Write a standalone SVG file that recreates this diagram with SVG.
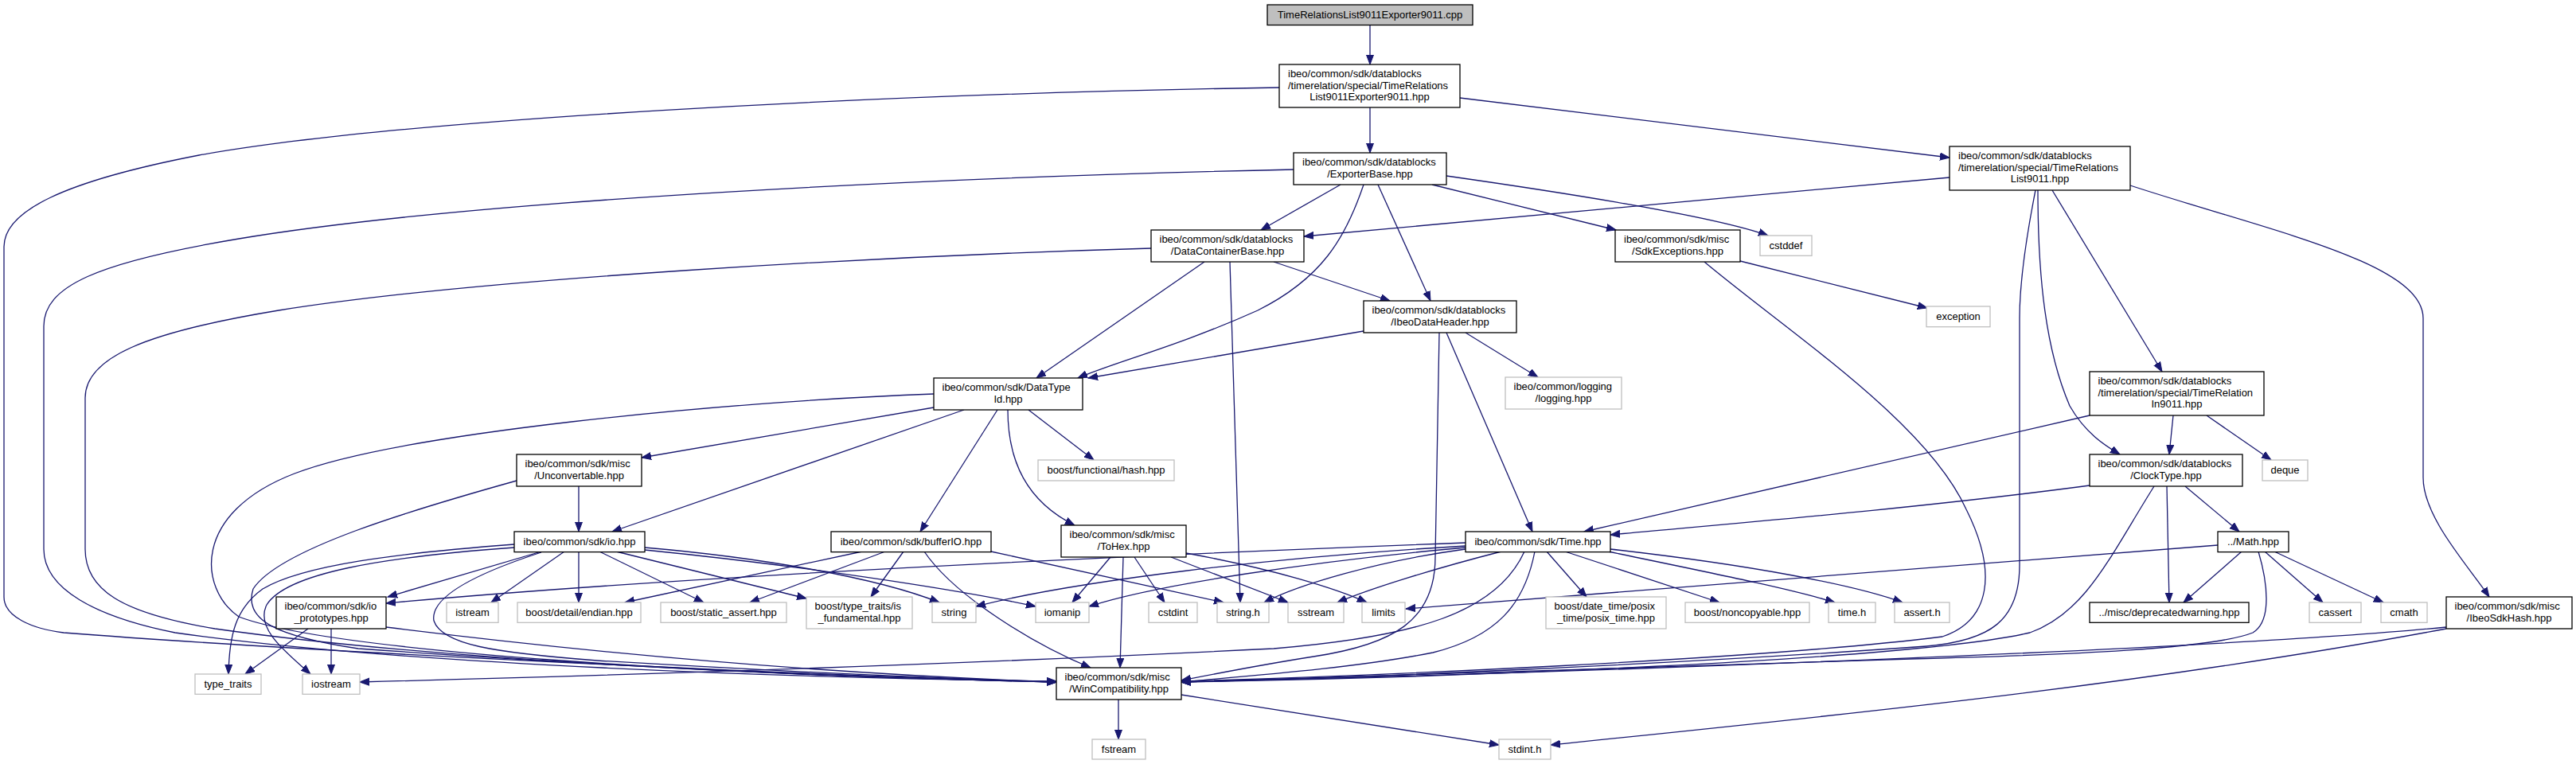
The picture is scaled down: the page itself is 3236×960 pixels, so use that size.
<svg xmlns="http://www.w3.org/2000/svg" width="3236" height="960" viewBox="0 0 3236 960">
<style>
text { font-family: "Liberation Sans", Arial, Helvetica, sans-serif; font-size: 13px; fill: #000; }
.m { text-anchor: middle; }
.s { text-anchor: start; }
rect.b { fill: #fff; stroke: #000; stroke-width: 1.3; }
rect.g { fill: #fff; stroke: #bfbfbf; stroke-width: 1.3; }
rect.r { fill: #bfbfbf; stroke: #000; stroke-width: 1.3; }
.e path { fill: none; stroke: #191970; stroke-width: 1.3; marker-end: url(#ah); }
</style>
<defs>
<marker id="ah" markerWidth="13" markerHeight="11" refX="12" refY="5" orient="auto" markerUnits="userSpaceOnUse">
<path d="M0,0.5 L12,5 L0,9.5 z" fill="#191970" stroke="#191970" stroke-width="1"/>
</marker>
</defs>
<rect x="0" y="0" width="3236" height="960" fill="#fff"/>

<g id="edges" class="e">
<path d="M1721,31 L1721,81"/>
<path d="M1721,135 L1721,192"/>
<path d="M1834,123 L2449,198"/>
<path d="M1607,110 C1100,118 500,150 250,195 C80,228 5,265 5,310 L5,750 C5,775 40,790 80,795 C400,820 1000,848 1327,857"/>
<path d="M1625,213 C1200,222 600,250 300,300 C120,330 55,360 55,410 L55,690 C55,740 120,775 220,795 C500,835 1000,852 1327,856"/>
<path d="M1446,312 C1100,322 600,350 350,390 C180,418 107,450 107,500 L107,690 C107,740 150,770 270,790 C550,830 1000,850 1327,857"/>
<path d="M1173,495 C900,505 500,545 370,595 C240,645 250,740 300,775 C420,820 900,848 1327,857"/>
<path d="M649,604 C520,640 350,690 318,740 C305,780 350,800 450,815 C800,840 1100,852 1327,857"/>
<path d="M680,694 C600,720 540,750 545,780 C555,810 620,820 750,830 C1000,845 1200,853 1327,857"/>
<path d="M485,788 C700,815 1000,845 1327,857"/>
<path d="M1161,693 C1200,750 1300,810 1370,839"/>
<path d="M1411,700 L1407,839"/>
<path d="M1808,418 L1803,700 C1803,780 1750,810 1650,825 C1580,836 1520,848 1484,855"/>
<path d="M1928,693 C1915,760 1880,800 1800,820 C1700,840 1560,850 1484,857"/>
<path d="M1915,693 C1880,770 1780,800 1600,815 C1200,835 800,848 452,857"/>
<path d="M2141,329 C2250,420 2420,530 2470,640 C2510,720 2500,780 2440,800 C2200,830 1700,850 1484,856"/>
<path d="M2557,239 C2545,300 2537,360 2537,400 L2537,710 C2537,780 2500,805 2420,812 C2100,835 1700,852 1484,857"/>
<path d="M2706,611 C2650,700 2620,770 2550,795 C2400,830 1800,852 1484,857"/>
<path d="M2837,693 C2848,730 2855,780 2830,795 C2780,815 2600,823 2400,828 C2000,842 1700,852 1484,857"/>
<path d="M3073,788 C2800,815 2000,845 1484,857"/>
<path d="M3073,790 C2700,860 2300,900 1948,936"/>
<path d="M1484,873 L1883,936"/>
<path d="M1405,879 L1405,929"/>
<path d="M1684,232 L1584,289"/>
<path d="M1713,232 C1690,300 1660,350 1580,390 C1480,435 1400,455 1354,475"/>
<path d="M1731,232 L1797,378"/>
<path d="M1799,232 L2030,289"/>
<path d="M1817,221 C1950,240 2150,270 2221,296"/>
<path d="M2449,223 L1638,297"/>
<path d="M2560,239 C2560,350 2570,440 2600,510 C2620,545 2645,560 2663,571"/>
<path d="M2578,239 L2716,467"/>
<path d="M2676,233 C2850,290 3044,330 3044,400 L3044,600 C3044,650 3100,710 3127,750"/>
<path d="M2186,328 L2421,387"/>
<path d="M1513,329 L1302,475"/>
<path d="M1600,329 L1746,378"/>
<path d="M1545,329 L1558,757"/>
<path d="M1713,416 L1367,475"/>
<path d="M1817,418 L1925,668"/>
<path d="M1841,418 L1932,474"/>
<path d="M2625,522 L1990,668"/>
<path d="M2730,522 L2725,571"/>
<path d="M2772,522 L2853,578"/>
<path d="M2625,610 C2400,640 2150,660 2023,672"/>
<path d="M2722,611 L2725,757"/>
<path d="M2745,611 L2813,668"/>
<path d="M2816,693 L2743,757"/>
<path d="M2845,693 L2918,757"/>
<path d="M2857,693 L2994,757"/>
<path d="M2786,685 L1766,765"/>
<path d="M1173,512 L806,575"/>
<path d="M1211,515 L769,668"/>
<path d="M1253,515 L1156,668"/>
<path d="M1266,515 C1266,580 1290,630 1350,660"/>
<path d="M1292,515 L1374,578"/>
<path d="M727,611 L727,668"/>
<path d="M680,693 L487,750"/>
<path d="M709,693 L617,757"/>
<path d="M727,693 L727,757"/>
<path d="M753,693 L884,757"/>
<path d="M774,693 L1013,752"/>
<path d="M810,688 C950,700 1100,725 1180,757"/>
<path d="M810,691 C1000,710 1200,740 1301,762"/>
<path d="M646,684 C500,695 380,710 330,740 C295,765 288,800 287,847"/>
<path d="M646,688 C480,700 360,720 335,760 C320,790 360,820 390,847"/>
<path d="M387,790 L308,847"/>
<path d="M416,790 L416,847"/>
<path d="M1841,682 C1500,695 900,720 485,758"/>
<path d="M1841,686 C1600,700 1350,730 1226,762"/>
<path d="M1841,688 C1650,705 1450,735 1368,762"/>
<path d="M1841,690 C1730,705 1630,735 1588,757"/>
<path d="M1886,693 C1800,715 1720,740 1680,757"/>
<path d="M1395,700 L1347,757"/>
<path d="M1425,700 L1463,757"/>
<path d="M1471,700 L1618,757"/>
<path d="M1490,695 C1600,715 1680,740 1717,757"/>
<path d="M1083,693 L785,757"/>
<path d="M1112,693 L942,757"/>
<path d="M1135,693 L1094,750"/>
<path d="M1245,693 L1537,757"/>
<path d="M1943,693 L1993,750"/>
<path d="M1966,693 L2160,757"/>
<path d="M2020,693 C2150,720 2250,740 2305,757"/>
<path d="M2023,690 C2200,710 2330,735 2390,757"/>
</g>

<g id="n_root"><rect class="r" x="1592" y="6" width="258" height="25.5"/><text class="m" x="1721" y="23">TimeRelationsList9011Exporter9011.cpp</text></g>
<g id="n_trle"><rect class="b" x="1607" y="81" width="227" height="54"/><text class="s" x="1618" y="97">ibeo/common/sdk/datablocks</text><text class="s" x="1618" y="111.5">/timerelation/special/TimeRelations</text><text class="m" x="1720.5" y="126">List9011Exporter9011.hpp</text></g>
<g id="n_exporterbase"><rect class="b" x="1625" y="192" width="192" height="40"/><text class="s" x="1636" y="208">ibeo/common/sdk/datablocks</text><text class="m" x="1721" y="222.5">/ExporterBase.hpp</text></g>
<g id="n_datacontainerbase"><rect class="b" x="1446" y="289" width="192" height="40"/><text class="s" x="1456.5" y="305">ibeo/common/sdk/datablocks</text><text class="m" x="1542" y="319.5">/DataContainerBase.hpp</text></g>
<g id="n_sdkexceptions"><rect class="b" x="2029" y="289" width="157" height="40"/><text class="s" x="2040" y="305">ibeo/common/sdk/misc</text><text class="m" x="2107.5" y="319.5">/SdkExceptions.hpp</text></g>
<g id="n_cstddef"><rect class="g" x="2211" y="296" width="65" height="25.3"/><text class="m" x="2243.5" y="313">cstddef</text></g>
<g id="n_ibeodataheader"><rect class="b" x="1713" y="378" width="192" height="40"/><text class="s" x="1723.5" y="394">ibeo/common/sdk/datablocks</text><text class="m" x="1809" y="408.5">/IbeoDataHeader.hpp</text></g>
<g id="n_trl"><rect class="b" x="2449" y="184" width="227" height="55"/><text class="s" x="2460" y="200">ibeo/common/sdk/datablocks</text><text class="s" x="2460" y="214.5">/timerelation/special/TimeRelations</text><text class="m" x="2562.5" y="229">List9011.hpp</text></g>
<g id="n_exception"><rect class="g" x="2420" y="385" width="80" height="25.7"/><text class="m" x="2460" y="402">exception</text></g>
<g id="n_logging"><rect class="g" x="1891" y="474" width="146" height="40"/><text class="s" x="1901.5" y="490">ibeo/common/logging</text><text class="m" x="1964" y="504.5">/logging.hpp</text></g>
<g id="n_datatypeid"><rect class="b" x="1173" y="475" width="187" height="40"/><text class="s" x="1183.5" y="491">ibeo/common/sdk/DataType</text><text class="m" x="1266.5" y="505.5">Id.hpp</text></g>
<g id="n_trin"><rect class="b" x="2625" y="467" width="219" height="55"/><text class="s" x="2635.5" y="483">ibeo/common/sdk/datablocks</text><text class="s" x="2635.5" y="497.5">/timerelation/special/TimeRelation</text><text class="m" x="2734.5" y="512">In9011.hpp</text></g>
<g id="n_hash"><rect class="g" x="1304" y="578" width="171" height="26"/><text class="m" x="1389.5" y="595">boost/functional/hash.hpp</text></g>
<g id="n_unconvertable"><rect class="b" x="649" y="571" width="157" height="40"/><text class="s" x="659.5" y="587">ibeo/common/sdk/misc</text><text class="m" x="727.5" y="601.5">/Unconvertable.hpp</text></g>
<g id="n_clocktype"><rect class="b" x="2625" y="571" width="192" height="40"/><text class="s" x="2635.5" y="587">ibeo/common/sdk/datablocks</text><text class="m" x="2721" y="601.5">/ClockType.hpp</text></g>
<g id="n_deque"><rect class="g" x="2842" y="578" width="57" height="26"/><text class="m" x="2870.5" y="595">deque</text></g>
<g id="n_io"><rect class="b" x="646" y="668" width="164" height="25.6"/><text class="m" x="728" y="685">ibeo/common/sdk/io.hpp</text></g>
<g id="n_bufferio"><rect class="b" x="1044" y="668" width="201" height="25.6"/><text class="m" x="1144.5" y="685">ibeo/common/sdk/bufferIO.hpp</text></g>
<g id="n_tohex"><rect class="b" x="1333" y="660" width="157" height="40"/><text class="s" x="1343.5" y="676">ibeo/common/sdk/misc</text><text class="m" x="1411.5" y="690.5">/ToHex.hpp</text></g>
<g id="n_time"><rect class="b" x="1841" y="668" width="182" height="25.6"/><text class="m" x="1932" y="685">ibeo/common/sdk/Time.hpp</text></g>
<g id="n_math"><rect class="b" x="2786" y="668" width="89" height="25.6"/><text class="m" x="2830.5" y="685">../Math.hpp</text></g>
<g id="n_ioprototypes"><rect class="b" x="347" y="750" width="138" height="40"/><text class="s" x="357.5" y="766">ibeo/common/sdk/io</text><text class="m" x="416" y="780.5">_prototypes.hpp</text></g>
<g id="n_istream"><rect class="g" x="561" y="757" width="65" height="25.3"/><text class="m" x="593.5" y="774">istream</text></g>
<g id="n_endian"><rect class="g" x="650" y="757" width="155" height="25.3"/><text class="m" x="727.5" y="774">boost/detail/endian.hpp</text></g>
<g id="n_staticassert"><rect class="g" x="830" y="757" width="158" height="25.3"/><text class="m" x="909" y="774">boost/static_assert.hpp</text></g>
<g id="n_isfundamental"><rect class="g" x="1013" y="750" width="133" height="40"/><text class="s" x="1023.5" y="766">boost/type_traits/is</text><text class="m" x="1079.5" y="780.5">_fundamental.hpp</text></g>
<g id="n_string"><rect class="g" x="1171" y="757" width="55" height="25.3"/><text class="m" x="1198.5" y="774">string</text></g>
<g id="n_iomanip"><rect class="g" x="1301" y="757" width="67" height="25.3"/><text class="m" x="1334.5" y="774">iomanip</text></g>
<g id="n_cstdint"><rect class="g" x="1443" y="757" width="61" height="25.3"/><text class="m" x="1473.5" y="774">cstdint</text></g>
<g id="n_stringh"><rect class="g" x="1529" y="757" width="65" height="25.3"/><text class="m" x="1561.5" y="774">string.h</text></g>
<g id="n_sstream"><rect class="g" x="1618" y="757" width="70" height="25.3"/><text class="m" x="1653" y="774">sstream</text></g>
<g id="n_limits"><rect class="g" x="1711" y="757" width="54" height="25.3"/><text class="m" x="1738" y="774">limits</text></g>
<g id="n_posixtime"><rect class="g" x="1942" y="750" width="151" height="40"/><text class="s" x="1952.5" y="766">boost/date_time/posix</text><text class="m" x="2017.5" y="780.5">_time/posix_time.hpp</text></g>
<g id="n_noncopyable"><rect class="g" x="2117" y="757" width="156" height="25.3"/><text class="m" x="2195" y="774">boost/noncopyable.hpp</text></g>
<g id="n_timeh"><rect class="g" x="2297" y="757" width="59" height="25.3"/><text class="m" x="2326.5" y="774">time.h</text></g>
<g id="n_asserth"><rect class="g" x="2380" y="757" width="69" height="25.3"/><text class="m" x="2414.5" y="774">assert.h</text></g>
<g id="n_deprecated"><rect class="b" x="2625" y="757" width="200" height="25.3"/><text class="m" x="2725" y="774">../misc/deprecatedwarning.hpp</text></g>
<g id="n_cassert"><rect class="g" x="2901" y="757" width="65" height="25.3"/><text class="m" x="2933.5" y="774">cassert</text></g>
<g id="n_cmath"><rect class="g" x="2991" y="757" width="58" height="25.3"/><text class="m" x="3020" y="774">cmath</text></g>
<g id="n_ibeosdkhash"><rect class="b" x="3073" y="750" width="158" height="40"/><text class="s" x="3083.5" y="766">ibeo/common/sdk/misc</text><text class="m" x="3152" y="780.5">/IbeoSdkHash.hpp</text></g>
<g id="n_typetraits"><rect class="g" x="245" y="847" width="83" height="25.3"/><text class="m" x="286.5" y="864">type_traits</text></g>
<g id="n_iostream"><rect class="g" x="380" y="847" width="72" height="25.3"/><text class="m" x="416" y="864">iostream</text></g>
<g id="n_wincompat"><rect class="b" x="1327" y="839" width="157" height="40"/><text class="s" x="1337.5" y="855">ibeo/common/sdk/misc</text><text class="m" x="1405.5" y="869.5">/WinCompatibility.hpp</text></g>
<g id="n_fstream"><rect class="g" x="1372" y="929" width="67" height="25"/><text class="m" x="1405.5" y="946">fstream</text></g>
<g id="n_stdinth"><rect class="g" x="1883" y="929" width="65" height="25"/><text class="m" x="1915.5" y="946">stdint.h</text></g>
</svg>
